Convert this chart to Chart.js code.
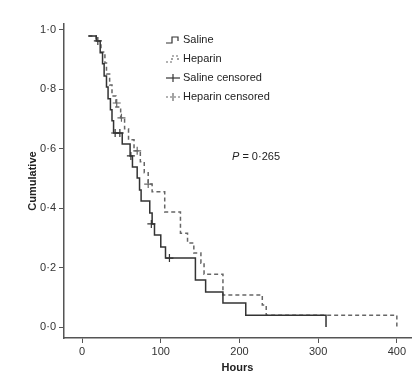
<!DOCTYPE html>
<html><head><meta charset="utf-8">
<script src="https://cdn.jsdelivr.net/npm/chart.js@4"></script>
<style>html,body{margin:0;padding:0;background:#fff}#wrap{width:418px;height:376px;position:relative}</style>
</head><body><div id="wrap"><canvas id="c" width="418" height="376"></canvas></div>
<script>
// Tick labels
const xTicks = [0, 100, 200, 300, 400];
const yTicks = [0, 0.2, 0.4, 0.6, 0.8, 1.0];

// Saline (Kaplan-Meier steps)
const salineTimes    = [8, 18, 23, 26, 28, 31, 33, 36, 38, 40, 51, 61, 64, 70, 73, 75, 86, 89, 92, 100, 106, 144, 157, 179, 208, 310];
const salineSurvival = [0.98, 0.963, 0.923, 0.886, 0.845, 0.808, 0.768, 0.731, 0.694, 0.653, 0.616, 0.576, 0.539, 0.502, 0.461, 0.424, 0.384, 0.347, 0.310, 0.269, 0.232, 0.158, 0.118, 0.081, 0.040, 0];

// Heparin (Kaplan-Meier steps)
const heparinTimes    = [8, 18, 24, 29, 31, 35, 38, 43, 49, 54, 59, 66, 74, 79, 84, 89, 105, 125, 134, 142, 151, 155, 179, 229, 234, 400];
const heparinSurvival = [0.98, 0.963, 0.926, 0.889, 0.852, 0.815, 0.778, 0.741, 0.704, 0.667, 0.630, 0.593, 0.556, 0.519, 0.481, 0.455, 0.387, 0.316, 0.283, 0.249, 0.215, 0.178, 0.108, 0.074, 0.040, 0];

// Censored observations
const salineCensorTimes    = [20, 42, 48, 62, 88, 111];
const salineCensorSurvival = [0.963, 0.653, 0.653, 0.576, 0.347, 0.232];
const heparinCensorTimes    = [44, 50, 70, 84];
const heparinCensorSurvival = [0.754, 0.704, 0.593, 0.481];

const legendLabels = ['Saline', 'Heparin', 'Saline censored', 'Heparin censored'];
const pLabel = ['P', ' = 0·265'];

const zip = (xs, ys) => xs.map((x, i) => ({x, y: ys[i]}));
const FONT = '"Liberation Sans", Arial, sans-serif';
const fmtY = v => v.toFixed(1).replace('.', '·');

const overlay = {
  id: 'overlay',
  afterDraw(chart) {
    const ctx = chart.ctx;
    ctx.save();
    ctx.font = '11px ' + FONT;
    ctx.fillStyle = '#222';
    ctx.textBaseline = 'middle';
    ctx.lineWidth = 1.2;
    const x0 = 166, tx = 183, top = 40, gap = 19;
    legendLabels.forEach((t, i) => {
      const y = top + i * gap;
      ctx.fillText(t, tx, y);
      ctx.beginPath();
      if (i === 0 || i === 1) {
        ctx.strokeStyle = i === 0 ? '#333' : '#666';
        ctx.setLineDash(i === 0 ? [] : [2, 2]);
        ctx.moveTo(x0, y + 3); ctx.lineTo(x0 + 6, y + 3); ctx.lineTo(x0 + 6, y - 3);
        ctx.lineTo(x0 + 12, y - 3); ctx.lineTo(x0 + 12, y + 1);
        ctx.stroke();
      } else {
        ctx.strokeStyle = i === 2 ? '#333' : '#666';
        ctx.setLineDash(i === 2 ? [] : [2, 2]);
        ctx.moveTo(x0, y); ctx.lineTo(x0 + 14, y); ctx.stroke();
        ctx.setLineDash([]);
        ctx.beginPath(); ctx.moveTo(x0 + 7, y - 4); ctx.lineTo(x0 + 7, y + 4); ctx.stroke();
      }
    });
    ctx.setLineDash([]);
    ctx.font = 'italic 11px ' + FONT;
    ctx.fillText(pLabel[0], 232, 157);
    const w = ctx.measureText(pLabel[0]).width;
    ctx.font = '11px ' + FONT;
    ctx.fillText(pLabel[1], 232 + w, 157);
    ctx.restore();
  }
};

new Chart(document.getElementById('c'), {
  type: 'scatter',
  data: {
    datasets: [
      {label: 'Saline', data: zip(salineTimes, salineSurvival), showLine: true, stepped: true,
       borderColor: '#333', borderWidth: 1.5, pointRadius: 0, fill: false},
      {label: 'Heparin', data: zip(heparinTimes, heparinSurvival), showLine: true, stepped: true,
       borderColor: '#666', borderWidth: 1.5, borderDash: [4, 3], pointRadius: 0, fill: false},
      {label: 'Saline censored', data: zip(salineCensorTimes, salineCensorSurvival), showLine: false,
       pointStyle: 'cross', pointRadius: 4, borderColor: '#333', borderWidth: 1.2},
      {label: 'Heparin censored', data: zip(heparinCensorTimes, heparinCensorSurvival), showLine: false,
       pointStyle: 'cross', pointRadius: 4, borderColor: '#666', borderWidth: 1.2}
    ]
  },
  options: {
    responsive: false, animation: false, devicePixelRatio: 1,
    layout: {padding: {left: 0, right: 7, top: 24, bottom: 0}},
    plugins: {legend: {display: false}, tooltip: {enabled: false}},
    scales: {
      x: {
        type: 'linear', min: -23, max: 418,
        afterFit(s) { s.height = 38; },
        afterBuildTicks(s) { s.ticks = xTicks.map(v => ({value: v})); },
        grid: {drawOnChartArea: false, drawTicks: true, tickLength: 5, color: '#555', lineWidth: 1},
        border: {display: true, color: '#555', width: 1.5},
        ticks: {padding: 2, color: '#333', font: {family: FONT, size: 11}, maxRotation: 0},
        title: {display: true, text: 'Hours', color: '#222', font: {family: FONT, size: 11, weight: 'bold'}, padding: {top: 0, bottom: 1}}
      },
      y: {
        type: 'linear', min: -0.037, max: 1.02,
        afterFit(s) { s.width = 64; },
        afterBuildTicks(s) { s.ticks = yTicks.map(v => ({value: v})); },
        grid: {drawOnChartArea: false, drawTicks: true, tickLength: 5, color: '#555', lineWidth: 1},
        border: {display: true, color: '#555', width: 1.5},
        ticks: {padding: 3, color: '#333', font: {family: FONT, size: 11}, callback: v => fmtY(v)},
        title: {display: true, text: 'Cumulative', color: '#222', font: {family: FONT, size: 11, weight: 'bold'}, padding: {top: 26, bottom: 0}}
      }
    }
  },
  plugins: [overlay]
});
</script></body></html>
